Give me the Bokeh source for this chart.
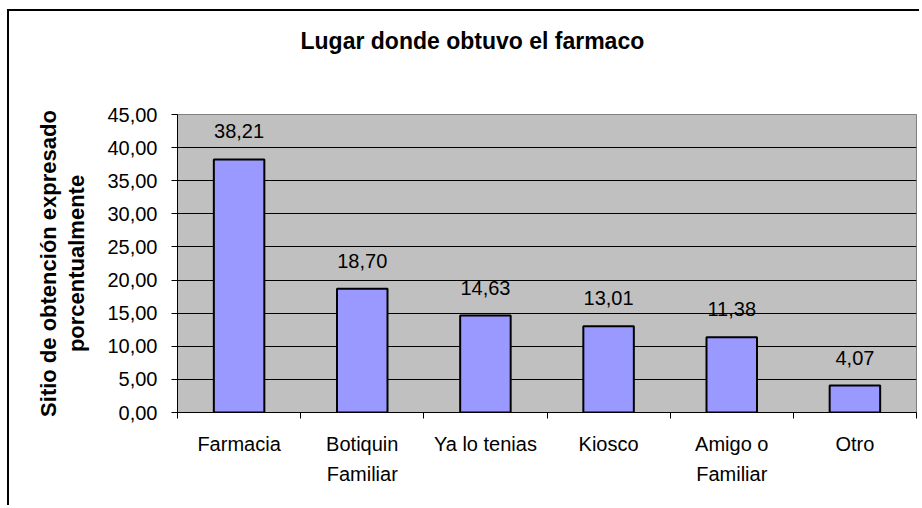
from bokeh.plotting import figure
from bokeh.models import ColumnDataSource, FixedTicker, LabelSet, Range1d, Title
from bokeh.core.properties import value
from bokeh.embed import file_html
from bokeh.resources import INLINE

# ---- data ----
categories = ["Farmacia", "Botiquin\nFamiliar", "Ya lo tenias", "Kiosco", "Amigo o\nFamiliar", "Otro"]
values = [38.21, 18.70, 14.63, 13.01, 11.38, 4.07]
value_labels = ["38,21", "18,70", "14,63", "13,01", "11,38", "4,07"]
y_ticks = [0, 5, 10, 15, 20, 25, 30, 35, 40, 45]
y_tick_labels = ["0,00", "5,00", "10,00", "15,00", "20,00", "25,00", "30,00", "35,00", "40,00", "45,00"]
title_text = "Lugar donde obtuvo el farmaco"
y_label = "Sitio de obtención expresado\nporcentualmente"

FONT = "Liberation Sans"

centers = [i + 0.5 for i in range(len(categories))]
bounds = list(range(len(categories) + 1))

src = ColumnDataSource(dict(x=centers, top=values, label=value_labels))

p = figure(width=912, height=496, output_backend="svg", toolbar_location=None, title=None,
           x_range=Range1d(0, len(categories)), y_range=Range1d(0, 45),
           min_border_left=168, min_border_right=5, min_border_top=103, min_border_bottom=95,
           background_fill_color="#C0C0C0", border_fill_color="white",
           outline_line_color="#808080", outline_line_width=1,
           styles={"margin-left": "7px", "margin-top": "9px",
                   "border-left": "2px solid black", "border-top": "2px solid black"})

# spacer between title and plot area, then the title itself
p.add_layout(Title(text=" ", text_font_size="1px", standoff=56), "above")
p.add_layout(Title(text=title_text, align="left", vertical_align="top", offset=123, standoff=0,
                   text_font=FONT, text_font_size="23px", text_font_style="bold",
                   text_color="black"), "above")

# grid
p.xgrid.visible = False
p.ygrid.ticker = FixedTicker(ticks=y_ticks[1:-1])
p.ygrid.grid_line_color = "black"
p.ygrid.grid_line_width = 1

# bars
p.vbar(x="x", top="top", width=0.41, source=src,
       fill_color="#9999FF", line_color="black", line_width=2)

# value labels
p.add_layout(LabelSet(x="x", y="top", text="label", source=src,
                      text_align="center", text_baseline="alphabetic", y_offset=21,
                      text_font=value(FONT), text_font_size=value("20px"), text_color="black"))

# y axis
ya = p.yaxis[0]
ya.ticker = FixedTicker(ticks=y_ticks)
ya.major_label_overrides = {t: l for t, l in zip(y_ticks, y_tick_labels)}
ya.minor_tick_line_color = None
ya.major_tick_in = 0
ya.major_tick_out = 6
ya.major_tick_line_color = "black"
ya.axis_line_color = "black"
ya.major_label_standoff = 14
ya.major_label_text_font = FONT
ya.major_label_text_font_size = "20px"
ya.major_label_text_color = "black"
ya.axis_label = y_label
ya.axis_label_text_font = FONT
ya.axis_label_text_font_size = "22px"
ya.axis_label_text_font_style = "bold"
ya.axis_label_text_color = "black"
ya.axis_label_text_line_height = 1.15
ya.axis_label_standoff = 15

# x axis
xa = p.xaxis[0]
xa.ticker = FixedTicker(ticks=centers, minor_ticks=bounds)
xa.major_label_overrides = {c: l for c, l in zip(centers, categories)}
xa.major_tick_line_color = None
xa.major_tick_in = 0
xa.major_tick_out = 6
xa.minor_tick_in = 0
xa.minor_tick_out = 6
xa.minor_tick_line_color = "black"
xa.axis_line_color = "black"
xa.major_label_standoff = 14
xa.major_label_text_font = FONT
xa.major_label_text_font_size = "20px"
xa.major_label_text_color = "black"
xa.major_label_text_line_height = 1.4

open("out.html", "w").write(file_html(p, INLINE))
